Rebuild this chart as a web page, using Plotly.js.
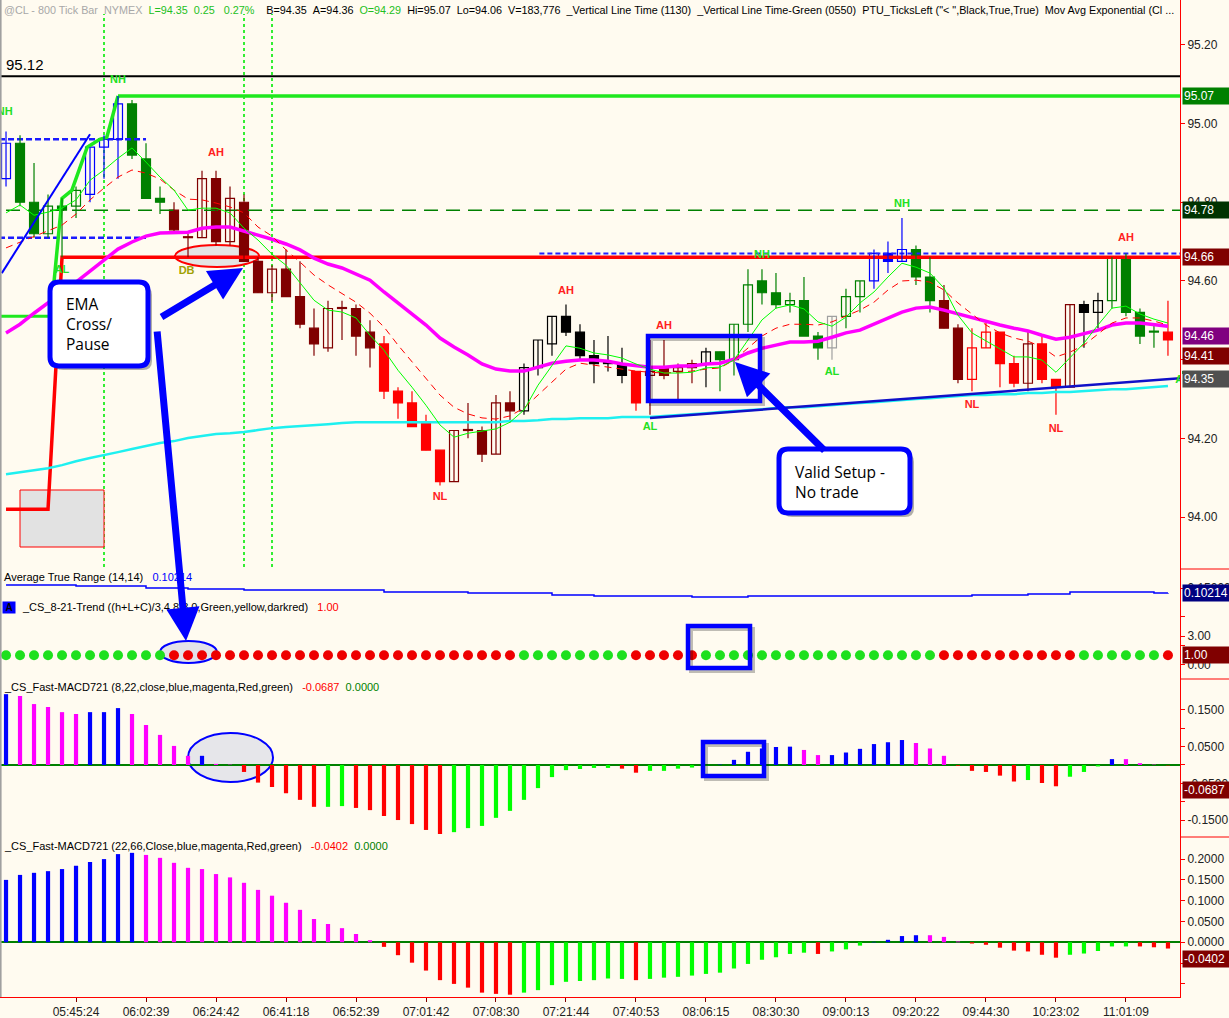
<!DOCTYPE html>
<html>
<head>
<meta charset="utf-8">
<script src="https://cdn.plot.ly/plotly-3.0.1.min.js"></script>
<style>
  html, body { margin: 0; padding: 0; background: #fffbf0; }
  #chart { width: 1229px; height: 1018px; }
</style>
</head>
<body>
<div id="chart"></div>
<script>
// 800 tick bars of @CL
const opens = [94.86, 94.95, 94.80, 94.72, 94.79, 94.79, 94.82, 94.94, 94.96, 95.05,
  94.91, 94.81, 94.78, 94.71, 94.71, 94.86, 94.70, 94.80, 94.65, 94.57,
  94.63, 94.56, 94.48, 94.43, 94.53, 94.53, 94.47, 94.44, 94.32, 94.29,
  94.24, 94.17, 94.09, 94.22, 94.22, 94.16, 94.29, 94.27, 94.38, 94.44,
  94.51, 94.47, 94.41, 94.39, 94.39, 94.37, 94.36, 94.38, 94.37, 94.38,
  94.39, 94.42, 94.40, 94.49, 94.60, 94.57, 94.54, 94.55, 94.46, 94.43,
  94.51, 94.56, 94.60, 94.67, 94.65, 94.68, 94.61, 94.55, 94.48, 94.35,
  94.43, 94.47, 94.39, 94.34, 94.44, 94.35, 94.33, 94.54, 94.52, 94.55,
  94.66, 94.52, 94.47, 94.47];
const highs = [94.98, 94.97, 94.90, 94.82, 94.81, 94.84, 94.94, 94.97, 95.07, 95.06,
  94.95, 94.84, 94.80, 94.72, 94.88, 94.88, 94.84, 94.82, 94.66, 94.64,
  94.68, 94.65, 94.53, 94.55, 94.55, 94.54, 94.50, 94.46, 94.33, 94.32,
  94.26, 94.17, 94.22, 94.29, 94.23, 94.31, 94.32, 94.39, 94.45, 94.51,
  94.54, 94.49, 94.45, 94.46, 94.43, 94.37, 94.45, 94.45, 94.39, 94.40,
  94.43, 94.42, 94.49, 94.63, 94.63, 94.62, 94.57, 94.61, 94.47, 94.51,
  94.58, 94.60, 94.68, 94.70, 94.76, 94.69, 94.66, 94.59, 94.49, 94.48,
  94.50, 94.47, 94.41, 94.47, 94.46, 94.35, 94.54, 94.55, 94.57, 94.66,
  94.67, 94.53, 94.49, 94.55];
const lows = [94.84, 94.79, 94.71, 94.71, 94.66, 94.76, 94.80, 94.86, 94.86, 94.91,
  94.81, 94.77, 94.72, 94.66, 94.71, 94.69, 94.69, 94.65, 94.57, 94.55,
  94.56, 94.48, 94.41, 94.42, 94.45, 94.41, 94.38, 94.30, 94.25, 94.23,
  94.17, 94.08, 94.09, 94.20, 94.14, 94.16, 94.24, 94.26, 94.36, 94.41,
  94.46, 94.40, 94.34, 94.37, 94.34, 94.27, 94.26, 94.35, 94.30, 94.34,
  94.33, 94.32, 94.36, 94.47, 94.54, 94.53, 94.52, 94.46, 94.40, 94.40,
  94.48, 94.52, 94.58, 94.62, 94.65, 94.59, 94.52, 94.48, 94.34, 94.32,
  94.43, 94.33, 94.33, 94.32, 94.34, 94.26, 94.33, 94.43, 94.48, 94.53,
  94.51, 94.44, 94.43, 94.41];
const closes = [94.95, 94.80, 94.72, 94.79, 94.78, 94.83, 94.94, 94.96, 95.05, 94.92,
  94.81, 94.80, 94.73, 94.71, 94.86, 94.70, 94.81, 94.65, 94.57, 94.63,
  94.56, 94.49, 94.44, 94.53, 94.53, 94.46, 94.43, 94.32, 94.29, 94.23,
  94.17, 94.09, 94.22, 94.22, 94.16, 94.29, 94.27, 94.38, 94.45, 94.51,
  94.47, 94.41, 94.39, 94.39, 94.36, 94.29, 94.37, 94.36, 94.38, 94.39,
  94.42, 94.40, 94.49, 94.59, 94.57, 94.54, 94.55, 94.46, 94.43, 94.51,
  94.56, 94.60, 94.67, 94.65, 94.68, 94.61, 94.55, 94.48, 94.35, 94.43,
  94.47, 94.39, 94.34, 94.44, 94.35, 94.33, 94.54, 94.52, 94.55, 94.66,
  94.52, 94.46, 94.47, 94.45];
// paint bar state: B blue, G dark green, D dark red, R red, K black, N gray
const barState = ('B GGGGG BBB GGG DDDDDDDDDDDDDDD RRRRR DDDDD KKKKKKKK R DDDD K ' +
  'GGGGGGGG N GG BBB GG DD RRRR D RR D KK GGGG R').replace(/ /g, '').split('');

// moving averages
const emaFast = [94.773, 94.793, 94.767, 94.775, 94.785, 94.806, 94.856, 94.882, 94.912, 94.938,
  94.902, 94.864, 94.831, 94.780, 94.785, 94.785, 94.773, 94.734, 94.704, 94.668,
  94.640, 94.597, 94.551, 94.526, 94.521, 94.506, 94.462, 94.424, 94.373, 94.330,
  94.284, 94.234, 94.203, 94.213, 94.218, 94.224, 94.241, 94.272, 94.335, 94.386,
  94.435, 94.429, 94.417, 94.412, 94.404, 94.389, 94.376, 94.366, 94.366, 94.368,
  94.379, 94.381, 94.399, 94.450, 94.501, 94.531, 94.539, 94.529, 94.496, 94.485,
  94.508, 94.544, 94.572, 94.610, 94.645, 94.635, 94.620, 94.582, 94.513, 94.468,
  94.447, 94.427, 94.407, 94.407, 94.399, 94.368, 94.404, 94.442, 94.488, 94.531,
  94.536, 94.516, 94.503, 94.493];
const emaMid = [94.684, 94.699, 94.714, 94.729, 94.742, 94.770, 94.806, 94.836, 94.864, 94.882,
  94.874, 94.859, 94.831, 94.808, 94.806, 94.798, 94.788, 94.773, 94.737, 94.714,
  94.679, 94.648, 94.615, 94.590, 94.569, 94.546, 94.518, 94.483, 94.437, 94.394,
  94.353, 94.310, 94.279, 94.262, 94.252, 94.249, 94.257, 94.277, 94.310, 94.343,
  94.376, 94.391, 94.386, 94.381, 94.376, 94.371, 94.368, 94.366, 94.368, 94.371,
  94.376, 94.379, 94.399, 94.429, 94.460, 94.480, 94.490, 94.490, 94.488, 94.496,
  94.511, 94.526, 94.546, 94.577, 94.600, 94.602, 94.597, 94.577, 94.544, 94.516,
  94.488, 94.468, 94.455, 94.447, 94.432, 94.407, 94.419, 94.437, 94.465, 94.493,
  94.506, 94.506, 94.498, 94.488];
const emaTrend = [94.468, 94.490, 94.518, 94.544, 94.572, 94.597, 94.625, 94.653, 94.681, 94.699,
  94.714, 94.722, 94.724, 94.724, 94.734, 94.737, 94.737, 94.727, 94.717, 94.706,
  94.694, 94.679, 94.658, 94.643, 94.633, 94.617, 94.602, 94.572, 94.544, 94.518,
  94.488, 94.455, 94.432, 94.412, 94.389, 94.376, 94.371, 94.371, 94.381, 94.391,
  94.396, 94.399, 94.399, 94.396, 94.389, 94.384, 94.381, 94.381, 94.384, 94.384,
  94.389, 94.391, 94.401, 94.417, 94.429, 94.437, 94.445, 94.445, 94.447, 94.457,
  94.468, 94.475, 94.490, 94.506, 94.521, 94.531, 94.534, 94.526, 94.516, 94.508,
  94.498, 94.488, 94.480, 94.473, 94.462, 94.452, 94.457, 94.465, 94.475, 94.488,
  94.493, 94.493, 94.488, 94.485];
const emaSlow = [94.109, 94.114, 94.119, 94.124, 94.132, 94.142, 94.150, 94.157, 94.165, 94.173,
  94.180, 94.188, 94.193, 94.201, 94.206, 94.211, 94.213, 94.216, 94.221, 94.226,
  94.229, 94.231, 94.234, 94.236, 94.239, 94.241, 94.241, 94.241, 94.241, 94.241,
  94.241, 94.241, 94.241, 94.241, 94.241, 94.241, 94.244, 94.244, 94.246, 94.249,
  94.249, 94.251, 94.251, 94.251, 94.254, 94.254, 94.254, 94.257, 94.259, 94.262,
  94.264, 94.267, 94.269, 94.272, 94.274, 94.277, 94.279, 94.279, 94.282, 94.284,
  94.287, 94.290, 94.292, 94.295, 94.297, 94.300, 94.302, 94.305, 94.307, 94.310,
  94.310, 94.312, 94.312, 94.315, 94.315, 94.318, 94.318, 94.320, 94.323, 94.325,
  94.325, 94.328, 94.330, 94.333];

// drawn levels and swing lines
const levelPrice = [95.12, 95.07, 94.78, 94.51, 94.96, 94.71, 94.67];
const levelFrom  = [-0.5, 8, 0, -0.5, -0.5, -0.5, 38.1];
const levelTo    = [84, 84, 84, 3, 10, 10, 84];
const swingUpBars = [3.3, 4, 4.7, 5.8, 6.7, 7.2, 8];
const swingUpPrices = [94.55, 94.81, 94.83, 94.94, 94.96, 94.965, 95.07];
const swingLowBars = [0, 3, 4, 84];
const swingLowPrices = [94.02, 94.02, 94.66, 94.66];
const channelBars = [-0.3, 6];
const channelPrices = [94.62, 94.973];
const supportBars = [46, 84];
const supportPrices = [94.252, 94.353];
const timeLineBars = [7, 17, 19];

// swing labels
const labelBars = [-0.1, 8, 15, 12.9, 4, 40, 31, 47, 46, 54, 59, 64, 69, 75, 80, 84.05];
const labelPrices = [95.029, 95.111, 94.925, 94.625, 94.628, 94.574, 94.051, 94.485, 94.229,
  94.666, 94.368, 94.795, 94.284, 94.224, 94.709, 94.348];
const labelTexts = ['NH', 'NH', 'AH', 'DB', 'AL', 'AH', 'NL', 'AH', 'AL', 'NH', 'AL', 'NH', 'NL', 'NL', 'AH', 'AL'];

// indicators
const atr = [0.179, 0.179, 0.179, 0.179, 0.179, 0.169, 0.169, 0.169, 0.169, 0.169,
  0.150, 0.150, 0.150, 0.140, 0.140, 0.140, 0.140, 0.131, 0.131, 0.131,
  0.131, 0.131, 0.131, 0.131, 0.131, 0.131, 0.131, 0.112, 0.112, 0.112,
  0.112, 0.112, 0.112, 0.102, 0.102, 0.102, 0.102, 0.102, 0.102, 0.083,
  0.083, 0.083, 0.073, 0.073, 0.073, 0.073, 0.073, 0.073, 0.073, 0.064,
  0.064, 0.064, 0.064, 0.073, 0.073, 0.073, 0.073, 0.073, 0.073, 0.073,
  0.073, 0.073, 0.073, 0.073, 0.073, 0.073, 0.073, 0.073, 0.073, 0.083,
  0.083, 0.083, 0.083, 0.093, 0.093, 0.093, 0.112, 0.112, 0.112, 0.112,
  0.112, 0.112, 0.102, 0.1021];
const trendState = ('UUUUUUUUUUUU DDDDDDDDDDDDDDDDDDDDDDDDD UUUUUUUU DDDDD ' +
  'UUUUUUUUUUUUUUUUU DDDDDDDDDD UUUUUU D').replace(/ /g, '').split('');
const macdFast = [0.193, 0.188, 0.166, 0.158, 0.144, 0.139, 0.144, 0.144, 0.155, 0.139,
  0.109, 0.082, 0.052, 0.025, 0.025, 0.003, 0.001, -0.019, -0.048, -0.060,
  -0.077, -0.095, -0.114, -0.114, -0.112, -0.117, -0.123, -0.139, -0.150, -0.161,
  -0.177, -0.188, -0.183, -0.172, -0.166, -0.144, -0.125, -0.095, -0.063, -0.033,
  -0.014, -0.011, -0.008, -0.008, -0.010, -0.021, -0.016, -0.016, -0.010, -0.007,
  -0.001, 0.001, 0.014, 0.036, 0.045, 0.049, 0.050, 0.041, 0.027, 0.027,
  0.034, 0.044, 0.057, 0.062, 0.068, 0.060, 0.045, 0.025, -0.002, -0.016,
  -0.019, -0.029, -0.045, -0.041, -0.049, -0.058, -0.032, -0.019, -0.004, 0.016,
  0.016, 0.005, 0.001, -0.001];
const macdFastState = ('b mmmmm bbb mmmmm b mm rrrrrr gg rrrrrrr gggggggggggg rr ggggg ' +
  'bbbbbb mm bbbbbb mmm rrrrr g rr ggg b mmm r').replace(/ /g, '').split('');
const macdSlow = [0.150, 0.162, 0.167, 0.171, 0.176, 0.184, 0.193, 0.200, 0.212, 0.215,
  0.210, 0.203, 0.191, 0.179, 0.176, 0.164, 0.156, 0.143, 0.126, 0.112,
  0.095, 0.078, 0.056, 0.044, 0.034, 0.020, 0.005, -0.011, -0.031, -0.049,
  -0.068, -0.091, -0.100, -0.109, -0.121, -0.124, -0.126, -0.121, -0.115, -0.103,
  -0.095, -0.093, -0.091, -0.087, -0.088, -0.091, -0.088, -0.085, -0.083, -0.080,
  -0.076, -0.073, -0.063, -0.052, -0.042, -0.036, -0.028, -0.025, -0.028, -0.022,
  -0.017, -0.008, 0.001, 0.006, 0.015, 0.017, 0.017, 0.013, 0.002, -0.003,
  -0.006, -0.013, -0.020, -0.022, -0.030, -0.037, -0.030, -0.027, -0.021, -0.010,
  -0.010, -0.010, -0.012, -0.015];
const macdSlowState = ('bbbbbbbbbb mmmmmmmmmmmmmmmmm rrrrrrrrrr gggggggg r gggggggggggg r ggg ' +
  'bbbb mmm rrrrrrr ggggg rrr').replace(/ /g, '').split('');

// time axis
const tickBars = [5, 10, 15, 20, 25, 30, 35, 40, 45, 50, 55, 60, 65, 70, 75, 80];
const tickTimes = ['05:45:24', '06:02:39', '06:24:42', '06:41:18', '06:52:39', '07:01:42',
  '07:08:30', '07:21:44', '07:40:53', '08:06:15', '08:30:30', '09:00:13', '09:20:22',
  '09:44:30', '10:23:02', '11:01:09'];

// last-value tags
const priceTagValues = [95.07, 94.78, 94.66, 94.46, 94.41, 94.35];
const atrLast = 0.10214;
const trendLast = 1.00;
const macdFastLast = -0.0687;
const macdSlowLast = -0.0402;

// ---------- drawing ----------
const BG = '#fffbf0';
const FONT = 'Liberation Sans, Arial, sans-serif';
const W = 1229, H = 1018, M = { l: 0, r: 49, t: 0, b: 21 };
const PW = W - M.l - M.r, PH = H - M.t - M.b;
const fx = px => (px - M.l) / PW;
const fy = py => 1 - (py - M.t) / PH;

const bars = opens.map((_, i) => i);
const paint = { B: '#0000ff', G: '#008000', D: '#800000', R: '#ff0000', K: '#000000', N: '#a0a0a0' };
const histColor = { b: '#0000ff', m: '#ff00ff', r: '#ff0000', g: '#00ff00' };

const traces = [];

// horizontal levels (behind candles)
const levelStyle = [
  { color: '#000000', width: 2 },
  { color: '#1ee81e', width: 3.5 },
  { color: '#008000', width: 1.5, dash: '14px,8px' },
  { color: '#1ee81e', width: 3 },
  { color: '#1a1aff', width: 2.5, dash: '6px,3px' },
  { color: '#1a1aff', width: 2.5, dash: '6px,3px' },
];
levelPrice.forEach((p, k) => {
  if (k === 6) return;
  traces.push({ type: 'scatter', mode: 'lines', x: [levelFrom[k], levelTo[k]], y: [p, p],
    line: levelStyle[k], hoverinfo: 'skip', xaxis: 'x', yaxis: 'y' });
});
traces.push({ type: 'scatter', mode: 'lines', x: swingLowBars, y: swingLowPrices,
  line: { color: '#ff0000', width: 3.5 }, hoverinfo: 'skip' });
traces.push({ type: 'scatter', mode: 'lines', x: [levelFrom[6], levelTo[6]], y: [levelPrice[6], levelPrice[6]],
  line: { color: '#2020ff', width: 2, dash: '5px,3px' }, hoverinfo: 'skip' });
traces.push({ type: 'scatter', mode: 'lines', x: swingUpBars, y: swingUpPrices,
  line: { color: '#1ee81e', width: 3.5 }, hoverinfo: 'skip' });

// wicks
Object.keys(paint).forEach(k => {
  const xs = [], ys = [];
  barState.forEach((s, i) => { if (s === k) { xs.push(i, i, null); ys.push(lows[i], highs[i], null); } });
  traces.push({ type: 'scatter', mode: 'lines', x: xs, y: ys, line: { color: paint[k], width: 1.2 },
    hoverinfo: 'skip' });
});
// bodies: filled when down, hollow when up
traces.push({
  type: 'bar', x: bars, yaxis: 'y',
  base: opens.map((o, i) => Math.min(o, closes[i])),
  y: opens.map((o, i) => Math.max(Math.abs(closes[i] - o), 0.0025)),
  width: 0.64,
  marker: {
    color: barState.map((s, i) => closes[i] < opens[i] ? paint[s] : BG),
    line: { color: barState.map(s => paint[s]), width: 1.2 }
  },
  hoverinfo: 'skip'
});

// averages
traces.push({ type: 'scatter', mode: 'lines', x: bars, y: emaSlow, line: { color: '#1ef0f0', width: 2.5 }, hoverinfo: 'skip' });
traces.push({ type: 'scatter', mode: 'lines', x: bars, y: emaTrend, line: { color: '#ff00ff', width: 3.5 }, hoverinfo: 'skip' });
traces.push({ type: 'scatter', mode: 'lines', x: bars, y: emaMid, line: { color: '#ff0000', width: 1, dash: '7px,5px' }, hoverinfo: 'skip' });
traces.push({ type: 'scatter', mode: 'lines', x: bars, y: emaFast, line: { color: '#00ff00', width: 1 }, hoverinfo: 'skip' });

// trendlines
traces.push({ type: 'scatter', mode: 'lines', x: channelBars, y: channelPrices, line: { color: '#0000ff', width: 2 }, hoverinfo: 'skip' });
traces.push({ type: 'scatter', mode: 'lines', x: supportBars, y: supportPrices, line: { color: '#1010c8', width: 2.5 }, hoverinfo: 'skip' });

// swing labels
const labelColor = { NH: '#22e022', AL: '#22e022', AH: '#ff2020', NL: '#ff2020', DB: '#a0a000' };
traces.push({
  type: 'scatter', mode: 'text', x: labelBars, y: labelPrices,
  text: labelTexts.map(t => '<b>' + t + '</b>'),
  textfont: { family: FONT, size: 11, color: labelTexts.map(t => labelColor[t]) },
  cliponaxis: true, hoverinfo: 'skip'
});

// ATR
traces.push({ type: 'scatter', mode: 'lines', x: bars, y: atr, yaxis: 'y2',
  line: { color: '#0000ff', width: 1.5, shape: 'hv' }, hoverinfo: 'skip' });
// trend dots
traces.push({ type: 'scatter', mode: 'markers', x: bars, y: trendState.map(() => trendLast), yaxis: 'y3',
  marker: { size: 10, color: trendState.map(s => s === 'U' ? '#1ee01e' : '#ee0000') }, hoverinfo: 'skip' });
// MACD histograms
traces.push({ type: 'bar', x: bars, y: macdFast, yaxis: 'y4', width: 0.3,
  marker: { color: macdFastState.map(s => histColor[s]) }, hoverinfo: 'skip' });
traces.push({ type: 'bar', x: bars, y: macdSlow, yaxis: 'y5', width: 0.3,
  marker: { color: macdSlowState.map(s => histColor[s]) }, hoverinfo: 'skip' });

// ---------- layout ----------
const axisCommon = {
  side: 'right', anchor: 'x', showline: true, linecolor: '#ff0000', linewidth: 1,
  ticks: 'outside', ticklen: 4, tickcolor: '#ff0000', showgrid: false, zeroline: false,
  tickfont: { family: FONT, size: 12, color: '#222' }, fixedrange: true
};

function roundRect(x0, y0, x1, y1, r) {
  const P = (a, b) => fx(a) + ',' + fy(b);
  return 'M' + P(x0 + r, y0) + ' L' + P(x1 - r, y0) + ' Q' + P(x1, y0) + ' ' + P(x1, y0 + r) +
    ' L' + P(x1, y1 - r) + ' Q' + P(x1, y1) + ' ' + P(x1 - r, y1) +
    ' L' + P(x0 + r, y1) + ' Q' + P(x0, y1) + ' ' + P(x0, y1 - r) +
    ' L' + P(x0, y0 + r) + ' Q' + P(x0, y0) + ' ' + P(x0 + r, y0) + ' Z';
}
const pbox = (x0, y0, x1, y1, extra) => Object.assign({ xref: 'paper', yref: 'paper',
  x0: fx(x0), x1: fx(x1), y0: fy(y1), y1: fy(y0) }, extra);

const shapes = [];
timeLineBars.forEach(b => shapes.push({ type: 'line', layer: 'below', xref: 'x', yref: 'paper',
  x0: b, x1: b, y0: fy(567), y1: fy(14), line: { color: '#33ee33', width: 2, dash: 'dot' } }));
shapes.push(pbox(20, 490, 104, 547, { type: 'rect', layer: 'below', fillcolor: '#e2e2e2', line: { color: '#ff0000', width: 1 } }));
shapes.push(pbox(175, 245, 259, 267, { type: 'circle', layer: 'below', fillcolor: '#e4e4e4', line: { color: '#ff0000', width: 2 } }));
shapes.push(pbox(160, 641, 217, 663, { type: 'circle', layer: 'below', fillcolor: 'rgba(215,215,228,0.7)', line: { color: '#0000ff', width: 2 } }));
shapes.push(pbox(188, 733, 273, 782, { type: 'circle', layer: 'below', fillcolor: '#e6e6ea', line: { color: '#0000ff', width: 2 } }));
// highlight boxes with shadow
[[648, 336, 760, 401], [688, 626, 750, 668], [703, 742, 764, 776]].forEach(([a, b, c, d]) => {
  shapes.push(pbox(a + 3, b + 3, c + 3, d + 3, { type: 'rect', line: { color: 'rgba(0,0,0,0.25)', width: 4 } }));
  shapes.push(pbox(a, b, c, d, { type: 'rect', line: { color: '#0000ff', width: 4.5 } }));
});
// callout boxes
[[50, 282, 148, 366], [779, 449, 910, 513]].forEach(([a, b, c, d]) => {
  shapes.push({ type: 'path', xref: 'paper', yref: 'paper', path: roundRect(a + 4, b + 4, c + 4, d + 4, 9),
    fillcolor: 'rgba(0,0,0,0.3)', line: { width: 0 } });
  shapes.push({ type: 'path', xref: 'paper', yref: 'paper', path: roundRect(a, b, c, d, 9),
    fillcolor: '#ffffff', line: { color: '#0000ff', width: 5 } });
});
// frame bits
shapes.push({ type: 'line', xref: 'paper', yref: 'paper', x0: 0.0005, x1: 0.0005, y0: 0, y1: 1, line: { color: '#a0a0a0', width: 2 } });
[569, 679, 837].forEach(p => shapes.push({ type: 'line', xref: 'paper', yref: 'paper',
  x0: 1, x1: fx(W), y0: fy(p), y1: fy(p), line: { color: '#ff0000', width: 1 } }));
shapes.push({ type: 'rect', xref: 'paper', yref: 'paper', x0: fx(1182), x1: fx(W), y0: fy(374), y1: fy(371),
  fillcolor: '#1a9a1a', line: { width: 0 } });

const ann = [];
const txt = (px, py, text, size, color, extra) => ann.push(Object.assign({
  xref: 'paper', yref: 'paper', x: fx(px), y: fy(py), xanchor: 'left', yanchor: 'middle',
  text, showarrow: false, font: { family: FONT, size, color } }, extra));
const sp = (c, t) => '<span style="color:' + c + '">' + t + '</span>';
const nb = n => '&nbsp;'.repeat(n);

txt(2, 10, sp('#a8a8a8', '@CL - 800 Tick Bar' + nb(2) + 'NYMEX') + nb(2) +
  sp('#22c022', 'L=94.35' + nb(2) + '0.25' + nb(3) + '0.27%') + nb(4) +
  'B=94.35' + nb(2) + 'A=94.36' + nb(2) + sp('#22c022', 'O=94.29') + nb(2) +
  'Hi=95.07' + nb(2) + 'Lo=94.06' + nb(2) + 'V=183,776' + nb(2) + '_Vertical Line Time (1130)' + nb(2) +
  '_Vertical Line Time-Green (0550)' + nb(2) + 'PTU_TicksLeft ("< ",Black,True,True)' + nb(2) +
  'Mov Avg Exponential (Cl ...', 10.8, '#000');
txt(4, 64, '95.12', 15, '#000');
txt(2, 577, 'Average True Range (14,14)' + nb(3) + sp('#0000ff', '0.10214'), 11, '#000');
txt(2, 607, '<b> A </b>', 10, '#000', { bgcolor: '#0000ff', borderpad: 0 });
txt(20, 607, '_CS_8-21-Trend ((h+L+C)/3,4,8,8,0,Green,yellow,darkred)' + nb(3) + sp('#ff0000', '1.00'), 11, '#000');
txt(2, 687, '_CS_Fast-MACD721 (8,22,close,blue,magenta,Red,green)' + nb(3) + sp('#ff0000', '-0.0687') + nb(2) + sp('#008000', '0.0000'), 11, '#000');
txt(2, 846, '_CS_Fast-MACD721 (22,66,Close,blue,magenta,Red,green)' + nb(3) + sp('#ff0000', '-0.0402') + nb(2) + sp('#008000', '0.0000'), 11, '#000');

// callout texts
ann.push({ xref: 'paper', yref: 'paper', x: fx(64), y: fy(291), xanchor: 'left', yanchor: 'top', align: 'left',
  text: 'EMA<br>Cross/<br>Pause', showarrow: false, font: { family: 'Open Sans, DejaVu Sans, sans-serif', size: 15.5, color: '#000' } });
ann.push({ xref: 'paper', yref: 'paper', x: fx(793), y: fy(459), xanchor: 'left', yanchor: 'top', align: 'left',
  text: 'Valid Setup -<br>No trade', showarrow: false, font: { family: 'Open Sans, DejaVu Sans, sans-serif', size: 15.5, color: '#000' } });

// arrows
[[243, 268, 160, 318], [186, 641, 157, 330], [735, 362, 826, 452]].forEach(([tx, ty, sx, sy]) => ann.push({
  xref: 'paper', yref: 'paper', x: fx(tx), y: fy(ty), ax: sx - tx, ay: sy - ty, text: '',
  showarrow: true, arrowcolor: '#0000ff', arrowwidth: 7, arrowhead: 2, arrowsize: 0.95, standoff: 0 }));

// right side tags
const tag = (val, yref, text, bg) => ann.push({ xref: 'paper', yref, x: 1, y: val, xanchor: 'left', yanchor: 'middle',
  xshift: 2, text, showarrow: false, bgcolor: bg, borderpad: 1, width: 44, align: 'left',
  font: { family: FONT, size: 12, color: '#ffffff' } });
const tagColors = ['#008000', '#003300', '#800000', '#800080', '#800000', '#505050'];
priceTagValues.forEach((v, k) => tag(v, 'y', v.toFixed(2), tagColors[k]));
tag(atrLast, 'y2', atrLast.toFixed(5), '#000080');
tag(trendLast, 'y3', trendLast.toFixed(2), '#800000');
tag(macdFastLast, 'y4', macdFastLast.toFixed(4), '#800000');
tag(macdSlowLast, 'y5', macdSlowLast.toFixed(4), '#800000');

const layout = {
  width: W, height: H, margin: Object.assign({ autoexpand: false }, M),
  paper_bgcolor: BG, plot_bgcolor: BG, showlegend: false, barmode: 'overlay',
  xaxis: {
    domain: [0, 1], range: [-0.43, 83.86], anchor: 'y5', showline: true, linecolor: '#ff0000',
    ticks: 'outside', ticklen: 4, tickcolor: '#800000', tickvals: tickBars, ticktext: tickTimes,
    tickfont: { family: FONT, size: 12, color: '#222' }, showgrid: false, zeroline: false, fixedrange: true
  },
  yaxis: Object.assign({}, axisCommon, { domain: [fy(569), fy(0)], range: [93.868, 95.314],
    tickvals: [94.0, 94.2, 94.4, 94.6, 94.8, 95.0, 95.2], tickformat: '.2f' }),
  yaxis2: Object.assign({}, axisCommon, { domain: [fy(599), fy(569)], range: [0.0444, 0.3324],
    tickvals: [0.15], ticktext: ['0.15000'] }),
  yaxis3: Object.assign({}, axisCommon, { domain: [fy(679), fy(599)], range: [-1.45, 6.83],
    tickvals: [0, 2, 3, 5], ticktext: ['0.00', '', '3.00', ''] }),
  yaxis4: Object.assign({}, axisCommon, { domain: [fy(837), fy(679)], range: [-0.1962, 0.2343],
    tickvals: [-0.15, -0.1, -0.05, 0, 0.05, 0.1, 0.15],
    ticktext: ['-0.1500', '', '-0.0500', '', '0.0500', '', '0.1500'],
    zeroline: true, zerolinecolor: '#008000', zerolinewidth: 2 }),
  yaxis5: Object.assign({}, axisCommon, { domain: [0, fy(837)], range: [-0.1315, 0.2531],
    tickvals: [-0.1, -0.05, 0, 0.05, 0.1, 0.15, 0.2],
    ticktext: ['', '', '0.0000', '0.0500', '0.1000', '0.1500', '0.2000'],
    zeroline: true, zerolinecolor: '#008000', zerolinewidth: 2 }),
  shapes, annotations: ann
};

Plotly.newPlot('chart', traces, layout, { displayModeBar: false, staticPlot: true });
</script>
</body>
</html>
